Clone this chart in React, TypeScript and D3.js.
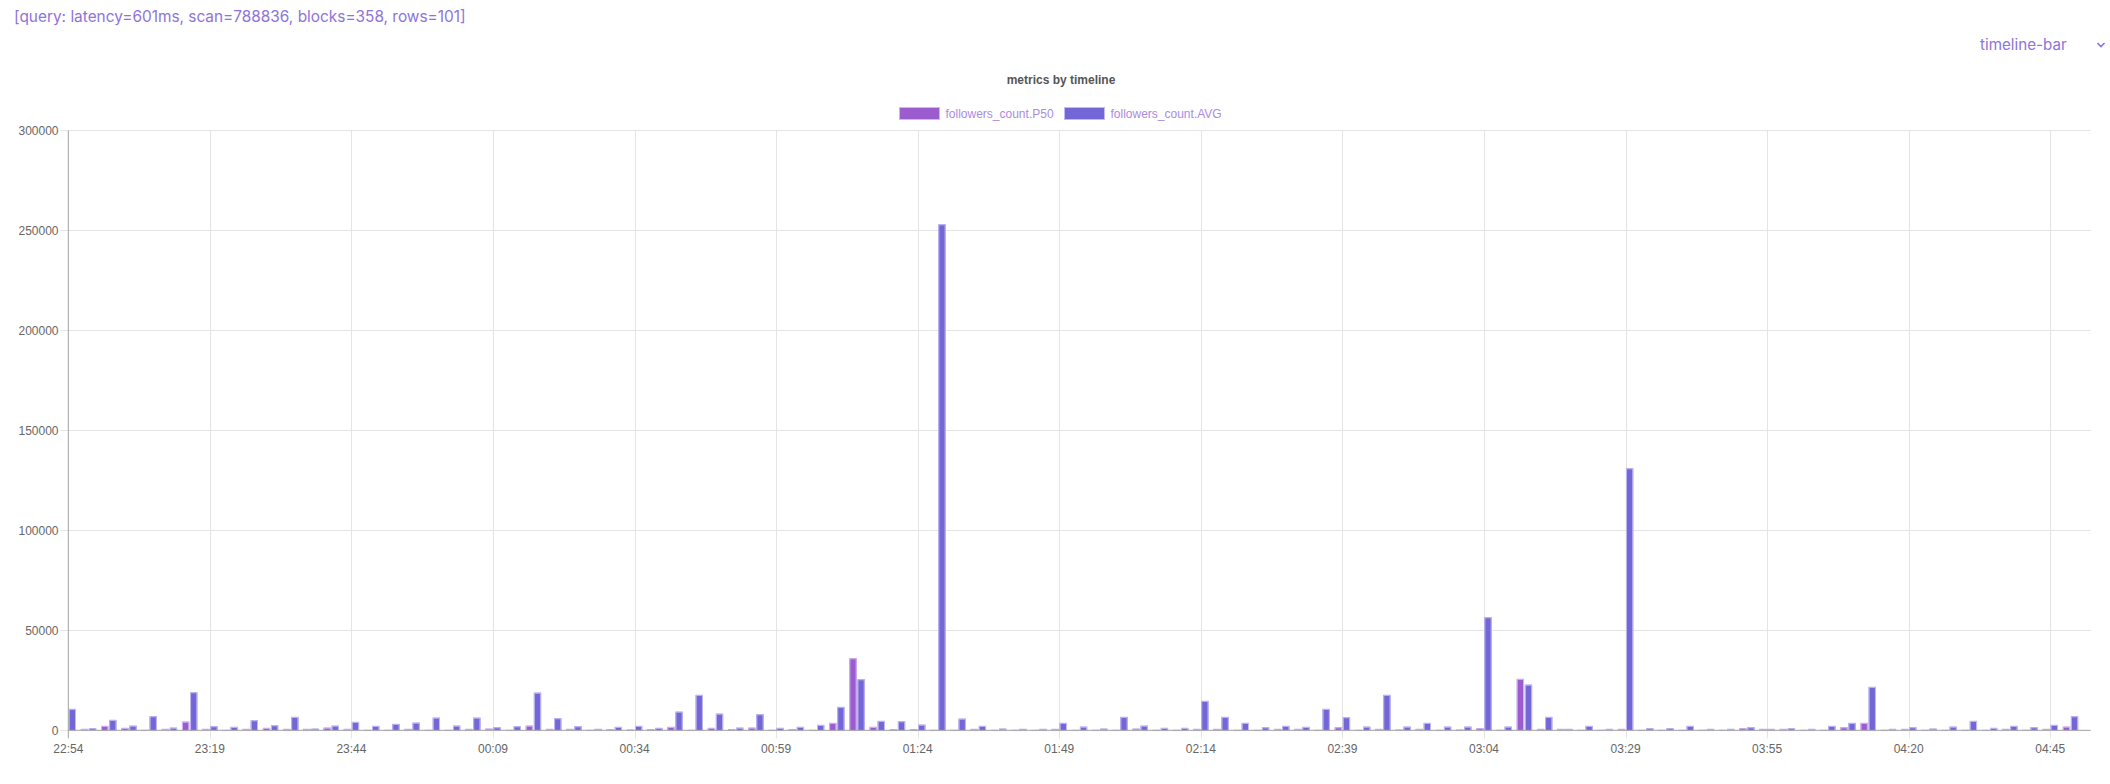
import React from "react";
import * as d3 from "d3";

// ---- data ----
const tickLabels = ["22:54","23:19","23:44","00:09","00:34","00:59","01:24","01:49","02:14","02:39","03:04","03:29","03:55","04:20","04:45"];
const labelEvery = 7;
const slotCount = 100; // axis spans slot 0..100

const p50Values = [
  500,700,2200,1200,200,700,4300,700,200,700,
  1200,700,700,1300,700,200,200,700,200,200,
  700,800,200,2300,700,700,200,500,300,500,
  1700,200,1200,500,1300,200,500,200,3700,36000,
  1700,500,500,200,200,700,200,200,200,700,
  200,200,200,800,200,200,700,700,200,200,
  700,700,200,1500,200,700,300,700,200,300,
  1000,200,25700,700,700,200,200,700,200,200,
  200,200,200,1000,700,700,200,200,1500,3700,
  200,700,200,200,200,200,700,200,700,1800,
  0,
];
const avgValues = [
  10700,1000,5200,2300,7000,1300,19000,2000,1700,5000,
  2500,6700,800,2300,4200,2200,3200,3800,6300,2300,
  6300,1500,2000,18800,6000,2000,700,1700,2200,1200,
  9300,17700,8300,1300,8000,1200,1700,2700,11700,25500,
  4700,4500,2800,253000,5800,2200,800,700,700,3700,
  1800,800,6700,2300,1200,1200,14700,6700,3700,1500,
  2200,1700,10700,6500,1800,17700,1800,3700,1800,1800,
  56500,1800,22800,6700,700,2200,700,131000,1000,1000,
  2200,700,700,1500,700,1000,700,2200,3700,21700,
  700,1500,800,1800,4700,1200,2200,1500,2700,7000,
  0,
];
const seriesNames = ["followers_count.P50", "followers_count.AVG"];
const yTicks = [0, 50000, 100000, 150000, 200000, 250000, 300000];
const headerText = "[query: latency=601ms, scan=788836, blocks=358, rows=101]";
const chartTitle = "metrics by timeline";
const selectorText = "timeline-bar";

const fills = ["#9a5ccf", "#7366d6"];
const strokes = ["#d2b6ef", "#c2bbf2"];

export default function App() {
  const W = 2110, H = 784;
  const left = 68.3, right = 2090.7, top = 130.3, bottom = 730.3;
  const x = d3.scaleLinear().domain([0, slotCount]).range([left, right]);
  const y = d3.scaleLinear().domain([0, 300000]).range([bottom, top]);
  const slotW = x(1) - x(0);
  const inner = d3
    .scaleBand<string>()
    .domain(seriesNames)
    .range([-slotW * 0.4, slotW * 0.4])
    .paddingInner(0.1)
    .paddingOuter(0.05);
  const series = [p50Values, avgValues];
  const axisFont = "'Liberation Sans', Helvetica, Arial, sans-serif";

  return (
    <svg
      width={W}
      height={H}
      style={{ position: "absolute", left: 0, top: 0, background: "#fff" }}
    >
      <defs>
        <clipPath id="plotClip">
          <rect x={left} y={0} width={right - left} height={bottom + 1} />
        </clipPath>
      </defs>
      <text x={14} y={22} fontFamily="Inter, sans-serif" fontSize={15.4} fill="#8d74da">
        {headerText}
      </text>
      <text x={1980} y={50} fontFamily="Inter, sans-serif" fontSize={15.2} fill="#8d74da">
        {selectorText}
      </text>
      <path d="M2097.5,43 L2101,46.5 L2104.5,43" fill="none" stroke="#8d74da" strokeWidth={1.6} />

      <text x={1061} y={84} textAnchor="middle" fontFamily={axisFont} fontWeight="bold" fontSize={12} fill="#555">
        {chartTitle}
      </text>
      {/* legend */}
      {(() => {
        const items = [
          { x: 899.5, tx: 945.5 },
          { x: 1064.5, tx: 1110.5 },
        ];
        return seriesNames.map((s, k) => (
          <g key={s}>
            <rect x={items[k].x} y={107.5} width={40} height={12} fill={fills[k]} stroke={strokes[k]} strokeWidth={1} />
            <text x={items[k].tx} y={117.5} fontFamily={axisFont} fontSize={12} fill="#a98be2">
              {s}
            </text>
          </g>
        ));
      })()}

      {/* horizontal grid + y labels */}
      {yTicks.map((t) => (
        <g key={t}>
          <line x1={left - 8} x2={right} y1={Math.round(y(t)) + 0.5} y2={Math.round(y(t)) + 0.5} stroke="#e4e4e4" strokeWidth={1} />
          <text x={58.5} y={y(t) + 4.2} textAnchor="end" fontFamily={axisFont} fontSize={12} fill="#666">
            {t}
          </text>
        </g>
      ))}
      {/* vertical grid + x labels */}
      {tickLabels.map((lab, k) => {
        const xx = x(k * labelEvery);
        return (
          <g key={lab}>
            <line x1={Math.round(xx) + 0.5} x2={Math.round(xx) + 0.5} y1={top} y2={bottom + 8} stroke="#e4e4e4" strokeWidth={1} />
            <text x={xx} y={752.5} textAnchor="middle" fontFamily={axisFont} fontSize={12} fill="#666">
              {lab}
            </text>
          </g>
        );
      })}

      {/* bars */}
      <g clipPath="url(#plotClip)">
        {series.map((vals, s) =>
          vals.map((v, i) => {
            if (!v) return null;
            const bx = x(i) + (inner(seriesNames[s]) as number);
            const bw = inner.bandwidth();
            const by = y(v);
            const bh = bottom - by;
            return (
              <g key={`${s}-${i}`}>
                <rect x={bx} y={by} width={bw} height={bh} fill={fills[s]} />
                <rect x={bx + 0.5} y={by + 0.5} width={Math.max(0, bw - 1)} height={Math.max(0, bh)} fill="none" stroke={strokes[s]} strokeWidth={1} />
              </g>
            );
          })
        )}
      </g>

      {/* axes lines */}
      <line x1={left} x2={left} y1={top} y2={bottom + 8} stroke="#a6a6a6" strokeWidth={1} />
      <line x1={left} x2={right} y1={bottom} y2={bottom} stroke="#a6a6a6" strokeWidth={1} />
    </svg>
  );
}
